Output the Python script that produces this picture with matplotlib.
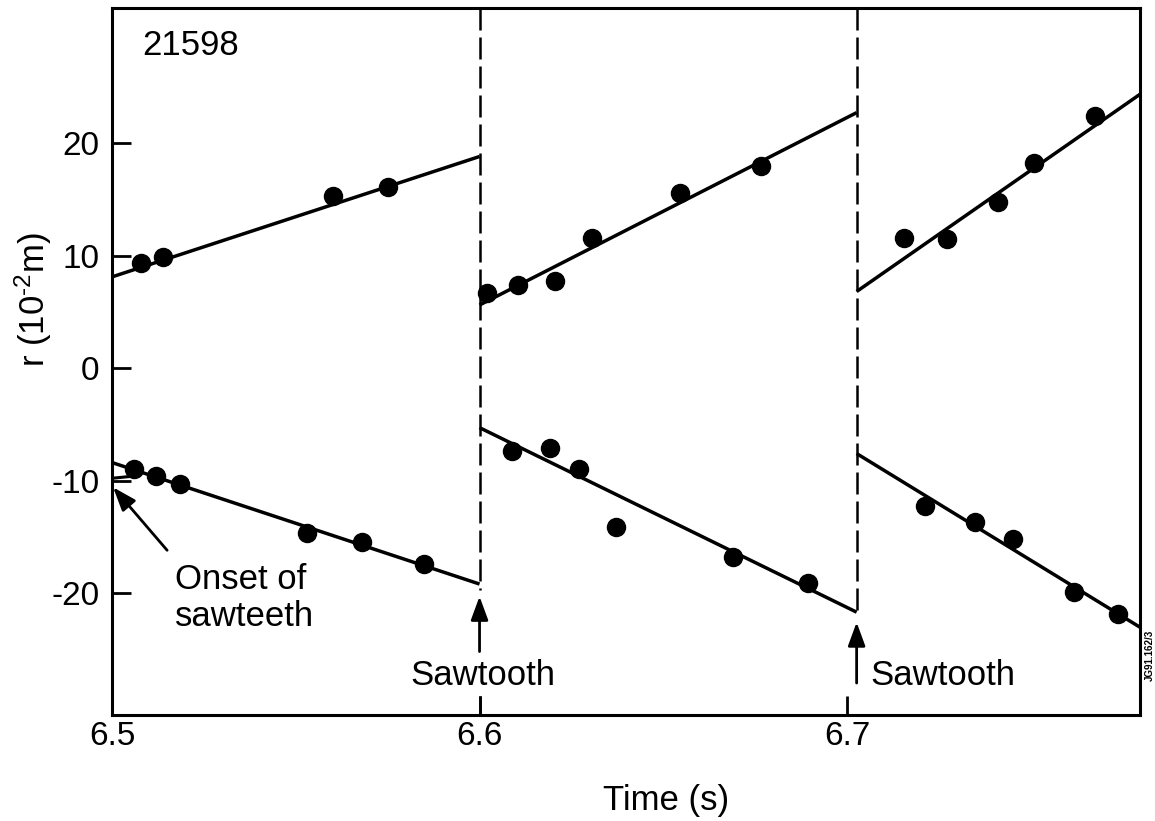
import matplotlib
matplotlib.use("Agg")
import matplotlib.pyplot as plt

plt.rcParams['font.family'] = ['Liberation Sans', 'DejaVu Sans']
plt.rcParams['mathtext.default'] = 'regular'
plt.rcParams['mathtext.fontset'] = 'custom'
plt.rcParams['mathtext.rm'] = 'Liberation Sans'
plt.rcParams['mathtext.it'] = 'Liberation Sans'
plt.rcParams['mathtext.bf'] = 'Liberation Sans:bold'
plt.rcParams['axes.unicode_minus'] = False

# ---- data ----
crash_times = [6.6, 6.7026]

# fitted lines: (t_start, t_end), (r_start, r_end)
upper_fit_t = [(6.5, 6.6), (6.6, 6.7026), (6.7026, 6.78)]
upper_fit_r = [(8.1, 18.8), (5.6, 22.7), (6.8, 24.4)]
lower_fit_t = [(6.5, 6.6), (6.6, 6.7026), (6.7026, 6.78)]
lower_fit_r = [(-8.4, -19.2), (-5.3, -21.7), (-7.6, -23.1)]

# measured points
upper_t = [6.508, 6.514, 6.560, 6.575,
           6.602, 6.6105, 6.6205, 6.6306, 6.6546, 6.6766,
           6.7155, 6.7272, 6.7411, 6.7509, 6.7675]
upper_r = [9.3, 9.9, 15.3, 16.1,
           6.7, 7.4, 7.7, 11.6, 15.6, 18.0,
           11.6, 11.5, 14.8, 18.2, 22.4]
lower_t = [6.506, 6.512, 6.5185, 6.553, 6.568, 6.585,
           6.6088, 6.6192, 6.6271, 6.6371, 6.6690, 6.6894,
           6.7212, 6.7348, 6.7452, 6.7618, 6.7737]
lower_r = [-9.0, -9.6, -10.3, -14.7, -15.5, -17.4,
           -7.4, -7.1, -9.0, -14.1, -16.8, -19.1,
           -12.3, -13.7, -15.2, -19.9, -21.9]

onset_bracket_t = [6.5, 6.5046]
onset_bracket_r = [-9.8, -9.65]

x_ticks = [6.5, 6.6, 6.7]
x_ticklabels = ['6.5', '6.6', '6.7']
y_ticks = [20, 10, 0, -10, -20]
y_ticklabels = ['20', '10', '0', '-10', '-20']
xlim = (6.5, 6.7797)
ylim = (-30.84, 32.0)

# ---- figure ----
W, H = 1155, 821
fig = plt.figure(figsize=(W / 100, H / 100), dpi=100)
ax = fig.add_axes([112 / W, 1 - 715 / H, 1028 / W, 707 / H])
ax.set_xlim(*xlim)
ax.set_ylim(*ylim)

for s in ax.spines.values():
    s.set_linewidth(2.2)

ax.set_xticks(x_ticks)
ax.set_xticklabels(x_ticklabels)
ax.set_yticks(y_ticks)
ax.set_yticklabels(y_ticklabels)
ax.tick_params(axis='both', direction='in', length=14, width=2.0, labelsize=24)
ax.tick_params(axis='y', pad=9)
ax.tick_params(axis='x', pad=4)

line_kw = dict(color='black', lw=2.5, solid_capstyle='butt')
for (t0, t1), (r0, r1) in zip(upper_fit_t, upper_fit_r):
    ax.plot([t0, t1], [r0, r1], **line_kw)
for (t0, t1), (r0, r1) in zip(lower_fit_t, lower_fit_r):
    ax.plot([t0, t1], [r0, r1], **line_kw)
ax.plot(onset_bracket_t, onset_bracket_r, color='black', lw=2.2)

ax.plot(upper_t, upper_r, 'o', color='black', ms=13, mec='black')
ax.plot(lower_t, lower_r, 'o', color='black', ms=13, mec='black')

# dashed sawtooth-crash lines
dash_kw = dict(color='black', lw=1.8, linestyle=(0, (8.8, 2.8)))
ax.plot([crash_times[0]] * 2, [ylim[1], -19.7], **dash_kw)
ax.plot([crash_times[0]] * 2, [-29.2, ylim[0]], color='black', lw=1.8)
ax.plot([crash_times[1]] * 2, [ylim[1], -21.7], **dash_kw)

arrow_kw = dict(arrowstyle='-|>,head_length=0.6,head_width=0.22', color='black',
                lw=2.0, mutation_scale=24, shrinkA=0, shrinkB=0)
ax.annotate('', xy=(crash_times[0], -20.3), xytext=(crash_times[0], -25.2),
            arrowprops=arrow_kw)
ax.annotate('', xy=(crash_times[1], -22.6), xytext=(crash_times[1], -28.0),
            arrowprops=arrow_kw)
ax.text(6.601, -28.2, 'Sawtooth', ha='center', va='baseline', fontsize=25)
ax.text(6.7063, -28.2, 'Sawtooth', ha='left', va='baseline', fontsize=25)

# onset annotation
ax.annotate('', xy=(6.5003, -10.6), xytext=(6.5150, -16.2), arrowprops=arrow_kw)
ax.text(6.5171, -19.6, 'Onset of', ha='left', va='baseline', fontsize=25)
ax.text(6.5171, -22.9, 'sawteeth', ha='left', va='baseline', fontsize=25)

ax.text(0.029, 0.933, '21598', transform=ax.transAxes, ha='left', va='baseline',
        fontsize=25)

# axis labels
fig.text(666 / W, 1 - 810 / H, 'Time (s)', ha='center', va='baseline', fontsize=25)
fig.text(33 / W, 1 - 300 / H, r'r (10$^{\text{-}2}$m)', ha='center', va='center',
         rotation=90, fontsize=25)
fig.text(1150 / W, 1 - 655 / H, 'JG91.162/3', ha='center', va='center',
         rotation=90, fontsize=7, fontweight='bold')

fig.savefig('out.png', dpi=100)
